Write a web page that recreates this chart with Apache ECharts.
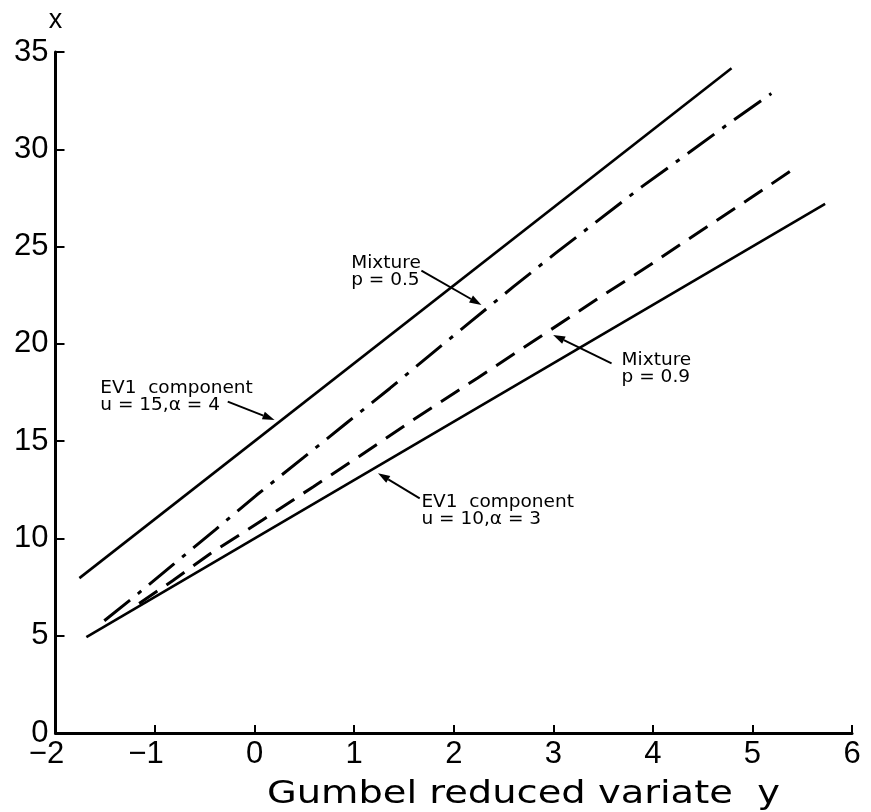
<!DOCTYPE html>
<html>
<head>
<meta charset="utf-8">
<script src="https://cdn.jsdelivr.net/npm/echarts@6/dist/echarts.min.js"></script>
<style>
  html, body { margin: 0; padding: 0; background: #fff; }
  #chart { width: 871px; height: 812px; }
</style>
</head>
<body>
<div id="chart"></div>
<script>
// Gumbel plot: x against the reduced variate y for two EV1 components and two mixtures
const xTicks = [-2, -1, 0, 1, 2, 3, 4, 5, 6];
const yTicks = [0, 5, 10, 15, 20, 25, 30, 35];

// EV1 components: x = u + alpha * y
const ev1Upper = [[-1.76, 7.96], [4.79, 34.16]];   // u = 15, alpha = 4
const ev1Lower = [[-1.69, 4.93], [5.73, 27.19]];   // u = 10, alpha = 3

// Mixture curves
const mixP05 = [
  [-1.51, 5.77], [-1.20, 7.04], [-0.81, 8.69], [-0.39, 10.47], [0.02, 12.23],
  [0.49, 14.15], [0.92, 15.92], [1.36, 17.72], [1.77, 19.46], [2.17, 21.14],
  [2.60, 22.94], [3.02, 24.65], [3.89, 28.08], [4.36, 29.82], [4.81, 31.50],
  [5.19, 32.87]
];
const mixP09 = [
  [-1.16, 6.66], [-0.82, 7.84], [-0.45, 9.20], [0.08, 10.95], [0.59, 12.66],
  [1.06, 14.25], [1.56, 15.98], [2.24, 18.25], [2.86, 20.34], [3.50, 22.50],
  [3.97, 24.05], [4.42, 25.60], [4.94, 27.35], [5.40, 28.94]
];

// Callout labels with arrows (data coordinates)
const callouts = [
  { lines: ['EV1  component', 'u = 15,\u03b1 = 4'], at: [-1.55, 18.17], from: [-0.27, 17.03], to: [0.20, 16.09] },
  { lines: ['Mixture', 'p = 0.5'],                 at: [0.97, 24.58],  from: [1.675, 23.76], to: [2.278, 22.0] },
  { lines: ['Mixture', 'p = 0.9'],                 at: [3.686, 19.59], from: [3.585, 19.0],  to: [2.998, 20.46] },
  { lines: ['EV1  component', 'u = 10,\u03b1 = 3'], at: [1.675, 12.32], from: [1.658, 12.06], to: [1.239, 13.35] }
];

// Axis titles
const xTitle = 'Gumbel reduced variate  y';
const xTitleCenter = 2.7;
const yTitle = 'x';

const MINUS = '\u2212';
const tickFont = '"Liberation Sans", Arial, Helvetica, sans-serif';
const noteFont = '"DejaVu Sans", Verdana, sans-serif';

const chart = echarts.init(document.getElementById('chart'), null, { renderer: 'canvas' });

const lineBase = { type: 'line', showSymbol: false, symbol: 'none', silent: true, animation: false, z: 3 };

chart.setOption({
  animation: false,
  backgroundColor: '#fff',
  grid: { left: 55.5, right: 19, top: 52, bottom: 79, containLabel: false },
  xAxis: {
    type: 'value', min: xTicks[0], max: xTicks[xTicks.length - 1], interval: 1,
    axisLine: { show: true, onZero: false, lineStyle: { color: '#000', width: 3 } },
    axisTick: { show: true, inside: true, length: 8, lineStyle: { color: '#000', width: 2 } },
    splitLine: { show: false },
    axisLabel: {
      color: '#000', fontSize: 31, fontFamily: tickFont, margin: 6,
      formatter: function (v) {
        if (v < 0) return '{m|' + MINUS + '}' + Math.abs(v) + '{h|' + MINUS + '}';
        return String(v);
      },
      rich: {
        m: { fontSize: 31, fontFamily: tickFont, color: '#000' },
        h: { fontSize: 31, fontFamily: tickFont, color: 'rgba(0,0,0,0)' }
      }
    }
  },
  yAxis: {
    type: 'value', min: yTicks[0], max: yTicks[yTicks.length - 1], interval: 5,
    axisLine: { show: true, onZero: false, lineStyle: { color: '#000', width: 3 } },
    axisTick: { show: true, inside: true, length: 9, lineStyle: { color: '#000', width: 2 } },
    splitLine: { show: false },
    axisLabel: { color: '#000', fontSize: 31, fontFamily: tickFont, margin: 7,
      formatter: function (v) { return yTicks.indexOf(v) >= 0 ? String(v) : ''; } }
  },
  series: [
    Object.assign({}, lineBase, { name: 'EV1 u=15', data: ev1Upper,
      lineStyle: { color: '#000', width: 2.6, type: 'solid' } }),
    Object.assign({}, lineBase, { name: 'EV1 u=10', data: ev1Lower,
      lineStyle: { color: '#000', width: 2.6, type: 'solid' } }),
    Object.assign({}, lineBase, { name: 'Mixture p=0.5', data: mixP05,
      lineStyle: { color: '#000', width: 3, type: [33, 10, 4.5, 10], cap: 'butt' } }),
    Object.assign({}, lineBase, { name: 'Mixture p=0.9', data: mixP09,
      lineStyle: { color: '#000', width: 3, type: [22, 11], cap: 'butt' } })
  ]
});

// Callouts, axis titles
function buildGraphics() {
  const els = [];
  callouts.forEach(function (c) {
    const p = chart.convertToPixel({ gridIndex: 0 }, c.at);
    els.push({
      type: 'text', x: p[0], y: p[1], silent: true, z: 10,
      style: { text: c.lines.join('\n'), fill: '#000', font: '18.5px ' + noteFont,
        lineHeight: 17, align: 'left', verticalAlign: 'top' }
    });
    const a = chart.convertToPixel({ gridIndex: 0 }, c.from);
    const b = chart.convertToPixel({ gridIndex: 0 }, c.to);
    const dx = b[0] - a[0], dy = b[1] - a[1];
    const len = Math.sqrt(dx * dx + dy * dy);
    const ux = dx / len, uy = dy / len;
    const headL = 12, headW = 4;
    const bx = b[0] - ux * headL, by = b[1] - uy * headL;
    els.push({
      type: 'line', silent: true, z: 10,
      shape: { x1: a[0], y1: a[1], x2: bx, y2: by },
      style: { stroke: '#000', lineWidth: 1.9 }
    });
    els.push({
      type: 'polygon', silent: true, z: 10,
      shape: { points: [[b[0], b[1]], [bx - uy * headW, by + ux * headW], [bx + uy * headW, by - ux * headW]] },
      style: { fill: '#000' }
    });
  });
  const yTop = chart.convertToPixel({ gridIndex: 0 }, [xTicks[0], yTicks[yTicks.length - 1]]);
  els.push({
    type: 'text', x: yTop[0], y: 21, silent: true,
    style: { text: yTitle, fill: '#000', font: '27px ' + tickFont, align: 'center', verticalAlign: 'middle' }
  });
  // x-axis title in a horizontally extended face
  const tc = chart.convertToPixel({ gridIndex: 0 }, [xTitleCenter, 0]);
  els.push({
    type: 'text', x: tc[0], y: 795, scaleX: 1.2, scaleY: 1, silent: true,
    style: { text: xTitle, fill: '#000', font: '32px ' + noteFont, align: 'center', verticalAlign: 'middle' }
  });
  return els;
}
chart.setOption({ graphic: buildGraphics() });
</script>
</body>
</html>
